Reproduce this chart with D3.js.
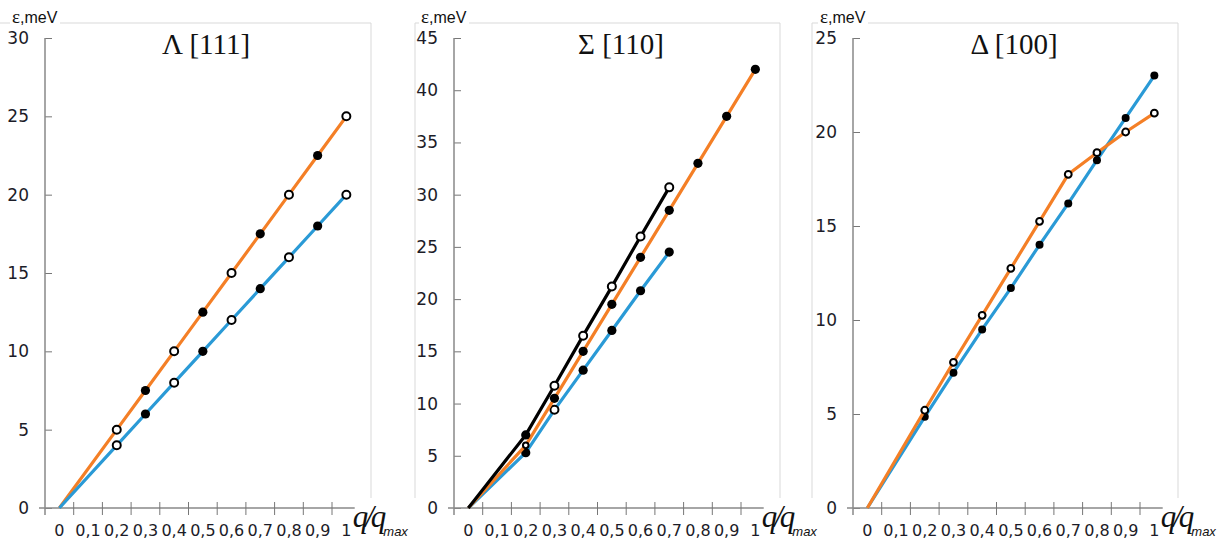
<!DOCTYPE html>
<html>
<head>
<meta charset="utf-8">
<script src="https://cdn.jsdelivr.net/npm/d3@7"></script>
<style>
  body { margin: 0; background: #fff; }
  svg { display: block; }
</style>
</head>
<body>
<div id="chart"></div>
<script>
// ---- data ----
const qTicks = [0, 0.1, 0.2, 0.3, 0.4, 0.5, 0.6, 0.7, 0.8, 0.9, 1];

// Lambda [111]
const lambdaQ = [0, 0.2, 0.3, 0.4, 0.5, 0.6, 0.7, 0.8, 0.9, 1];
const lambdaLA = [0, 5, 7.5, 10, 12.5, 15, 17.5, 20, 22.5, 25];
const lambdaTA = [0, 4, 6, 8, 10, 12, 14, 16, 18, 20];
const lambdaKind = [null, "o", "f", "o", "f", "o", "f", "o", "f", "o"];

// Sigma [110]
const sigmaQ = [0, 0.2, 0.3, 0.4, 0.5, 0.6, 0.7, 0.8, 0.9, 1];
const sigmaLA = [0, 6, 10.5, 15, 19.5, 24, 28.5, 33, 37.5, 42];
const sigmaLAKind = [null, "s", "f", "f", "f", "f", "f", "f", "f", "f"];
const sigmaQT = [0, 0.2, 0.3, 0.4, 0.5, 0.6, 0.7];
const sigmaT1 = [0, 7, 11.7, 16.5, 21.2, 26, 30.7];
const sigmaT1Kind = [null, "f", "o", "o", "o", "o", "o"];
const sigmaT2 = [0, 5.3, 9.4, 13.2, 17, 20.8, 24.5];
const sigmaT2Kind = [null, "f", "o", "f", "f", "f", "f"];

// Delta [100]
const deltaQ = [0, 0.2, 0.3, 0.4, 0.5, 0.6, 0.7, 0.8, 0.9, 1];
const deltaLA = [0, 5.2, 7.75, 10.25, 12.75, 15.25, 17.75, 18.9, 20, 21];
const deltaLAKind = [null, "o", "o", "o", "o", "o", "o", "o", "o", "o"];
const deltaTA = [0, 4.85, 7.2, 9.5, 11.7, 14, 16.2, 18.5, 20.75, 23];
const deltaTAKind = [null, "f", "f", "f", "f", "f", "f", "f", "f", "f"];

const yMaxes = [30, 45, 25];
const titles = [["\u039B", "[111]"], ["\u03A3", "[110]"], ["\u0394", "[100]"]];

const ORANGE = "#F47F26", BLUE = "#2A9AD6", BLACK = "#000";

// ---- layout ----
const W = 1218, H = 540;
const yTop = 38, yBottom = 508;
const bandW = 28.7;

const panels = [
    { axisX: 45, boxL: null, boxR: 371, yMax: yMaxes[0], title: titles[0], titleX: 206,
      series: [
        { q: lambdaQ, v: lambdaLA, kind: lambdaKind, color: ORANGE },
        { q: lambdaQ, v: lambdaTA, kind: lambdaKind, color: BLUE }
      ] },
    { axisX: 454, boxL: 415, boxR: 780, yMax: yMaxes[1], title: titles[1], titleX: 621,
      series: [
        { q: sigmaQT, v: sigmaT2, kind: sigmaT2Kind, color: BLUE },
        { q: sigmaQ, v: sigmaLA, kind: sigmaLAKind, color: ORANGE },
        { q: sigmaQT, v: sigmaT1, kind: sigmaT1Kind, color: BLACK }
      ] },
    { axisX: 853, boxL: 812, boxR: 1178, yMax: yMaxes[2], title: titles[2], titleX: 1014,
      series: [
        { q: deltaQ, v: deltaTA, kind: deltaTAKind, color: BLUE },
        { q: deltaQ, v: deltaLA, kind: deltaLAKind, color: ORANGE }
      ] }
];

const svg = d3.select("#chart").append("svg")
    .attr("width", W)
    .attr("height", H);

const fmt = d => String(d).replace(".", ",");

panels.forEach((p, pi) => {
    const g = svg.append("g");
    const x = d3.scaleBand()
        .domain(qTicks.map(fmt))
        .range([p.axisX, p.axisX + bandW * qTicks.length]);
    const xc = v => x(fmt(v)) + x.bandwidth() / 2;
    const y = d3.scaleLinear().domain([0, p.yMax]).range([yBottom, yTop]);
    const xEnd = p.axisX + bandW * qTicks.length;

    // chart area border (light gray, no bottom)
    const boxTop = 23, boxBot = 498;
    g.append("line").attr("x1", p.boxL == null ? 0 : p.boxL).attr("x2", p.boxR)
        .attr("y1", boxTop).attr("y2", boxTop).attr("stroke", "#d9d9d9");
    g.append("line").attr("x1", p.boxR).attr("x2", p.boxR)
        .attr("y1", boxTop).attr("y2", boxBot).attr("stroke", "#d9d9d9");
    if (p.boxL != null) {
        g.append("line").attr("x1", p.boxL).attr("x2", p.boxL)
            .attr("y1", boxTop).attr("y2", boxBot).attr("stroke", "#d9d9d9");
    }

    // y axis label with white background
    const ylx = p.axisX - 33;
    g.append("rect").attr("x", ylx - 2).attr("y", 6).attr("width", 50).attr("height", 22).attr("fill", "#fff");
    const yl = g.append("text")
        .attr("x", ylx).attr("y", 23)
        .attr("font-family", "Liberation Sans, Arial, sans-serif")
        .attr("font-size", 16).attr("fill", "#111");
    yl.append("tspan").attr("font-family", "Liberation Serif, serif").attr("font-size", 19).text("\u03B5");
    yl.append("tspan").text(",meV");

    // y axis
    const yAxis = g.append("g")
        .attr("transform", `translate(${p.axisX},0)`)
        .call(d3.axisLeft(y).tickValues(d3.range(0, p.yMax + 1, 5)).tickSize(6).tickPadding(10));
    yAxis.select(".domain").remove();
    yAxis.selectAll(".tick line").attr("x2", 7).attr("stroke", "#777");
    yAxis.selectAll(".tick text")
        .attr("font-family", "DejaVu Sans, sans-serif")
        .attr("font-size", 17).attr("fill", "#1c1c28");
    g.append("line").attr("x1", p.axisX).attr("x2", p.axisX)
        .attr("y1", yTop).attr("y2", 515).attr("stroke", "#888").attr("stroke-width", 1.5);

    // x axis: labels in band centers, ticks at band edges
    const xAxis = g.append("g")
        .attr("transform", `translate(0,${yBottom})`)
        .call(d3.axisBottom(x).tickSize(0).tickPadding(17));
    xAxis.select(".domain").remove();
    xAxis.selectAll(".tick text")
        .attr("font-family", "DejaVu Sans, sans-serif")
        .attr("font-size", 16).attr("fill", "#1c1c28");
    g.append("line").attr("x1", p.axisX - 6).attr("x2", xEnd - 6)
        .attr("y1", yBottom).attr("y2", yBottom).attr("stroke", "#888").attr("stroke-width", 1.5);
    g.selectAll(".xedge").data(qTicks.slice(0, -1)).enter().append("line")
        .attr("x1", d => x(fmt(d)) + x.bandwidth())
        .attr("x2", d => x(fmt(d)) + x.bandwidth())
        .attr("y1", yBottom - 6).attr("y2", yBottom + 7)
        .attr("stroke", "#777");

    // x axis title q/q_max
    const xt = g.append("text")
        .attr("x", xEnd - 8).attr("y", 527)
        .attr("font-family", "Liberation Serif, serif").attr("font-style", "italic")
        .attr("font-size", 31).attr("letter-spacing", -3).attr("fill", "#111");
    xt.append("tspan").text("q/q");
    xt.append("tspan")
        .attr("dx", 0).attr("dy", 9)
        .attr("letter-spacing", 0)
        .attr("font-family", "Liberation Sans, Arial, sans-serif")
        .attr("font-size", 13)
        .text("max");

    // title
    g.append("text")
        .attr("x", p.titleX).attr("y", 54)
        .attr("text-anchor", "middle")
        .attr("font-family", "Liberation Serif, serif")
        .attr("font-size", 29).attr("fill", "#111")
        .text(p.title[0] + " " + p.title[1]);

    // series
    const line = d3.line().x(d => xc(d.q)).y(d => y(d.v));
    p.series.forEach(s => {
        const pts = s.q.map((q, i) => ({ q: q, v: s.v[i], k: s.kind[i] }));
        g.append("path").datum(pts)
            .attr("d", line)
            .attr("fill", "none")
            .attr("stroke", s.color)
            .attr("stroke-width", 3.2)
            .attr("stroke-linejoin", "round");
        const big = pi === 2 ? 4 : 4.6;
        g.selectAll(null).data(pts.filter(d => d.k)).enter().append("circle")
            .attr("cx", d => xc(d.q))
            .attr("cy", d => y(d.v))
            .attr("r", d => d.k === "f" ? big : (d.k === "s" ? 2.8 : (pi === 2 ? 3.4 : 4)))
            .attr("fill", d => d.k === "f" ? "#000" : "#fff")
            .attr("stroke", "#000")
            .attr("stroke-width", d => d.k === "f" ? 0 : 2);
    });
});
</script>
</body>
</html>
